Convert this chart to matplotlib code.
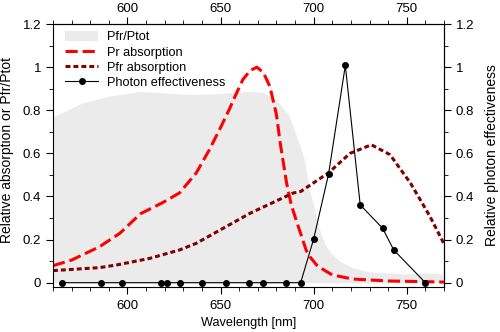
import matplotlib.pyplot as plt
from matplotlib.ticker import MultipleLocator

plt.rcParams["font.family"] = ["Liberation Sans", "DejaVu Sans"]

# Pfr/Ptot (grey area)
pfr_wl = [560, 576, 590, 607, 620, 635, 650, 665, 672, 680, 687, 692, 695, 698,
          700, 703, 706, 709, 714, 721, 730, 740, 750, 760, 770]
pfr_ptot = [0.77, 0.835, 0.865, 0.888, 0.88, 0.873, 0.878, 0.888, 0.885, 0.85, 0.77,
            0.65, 0.57, 0.42, 0.36, 0.25, 0.18, 0.14, 0.10, 0.07, 0.05, 0.045, 0.04,
            0.045, 0.04]

# Pr absorption
pr_wl = [560, 570, 585, 596, 607, 619, 628, 637, 644, 650, 655, 657, 662, 666, 669.5,
         673, 676.5, 680, 682, 685.5, 688, 691, 696, 698, 701.6, 703.4, 710, 721, 740,
         770]
pr_abs = [0.079, 0.105, 0.167, 0.23, 0.32, 0.372, 0.417, 0.51, 0.617, 0.72, 0.81, 0.85,
          0.943, 0.985, 1.0, 0.975, 0.91, 0.78, 0.65, 0.46, 0.36, 0.28, 0.15, 0.12,
          0.082, 0.07, 0.036, 0.017, 0.008, 0.003]

# Pfr absorption
pfrabs_wl = [560, 585, 594, 612, 628, 637, 644, 666, 689, 693, 708, 719.5, 731, 741,
             752, 762.5, 770]
pfr_abs = [0.056, 0.07, 0.082, 0.113, 0.152, 0.183, 0.217, 0.323, 0.416, 0.423, 0.51,
           0.60, 0.64, 0.594, 0.462, 0.307, 0.18]

# Photon effectiveness
eff_wl = [565, 586, 597, 618, 621, 628, 640, 653, 665, 673, 685, 693, 700, 708, 717,
          725, 737, 743, 760]
eff = [0, 0, 0, 0, 0, 0, 0, 0, 0, 0, 0, 0, 0.203, 0.504, 1.008, 0.361, 0.253, 0.152, 0]

yticks = [0, 0.2, 0.4, 0.6, 0.8, 1.0, 1.2]
yticklabels = ["0", "0.2", "0.4", "0.6", "0.8", "1", "1.2"]

fig = plt.figure(figsize=(5, 3.32), dpi=100)
ax = fig.add_axes([0.106, 0.1355, 0.782, 0.792])

ax.fill_between(pfr_wl, 0, pfr_ptot, color="#ebebeb", lw=0, label="Pfr/Ptot")
ax.plot(pr_wl, pr_abs, color="#ff0000", lw=2.2, dashes=(4, 1.6), label="Pr absorption")
ax.plot(pfrabs_wl, pfr_abs, color="#800000", lw=2.2, dashes=(1.6, 1),
        label="Pfr absorption")
ax.plot(eff_wl, eff, color="black", lw=0.8, marker="o", markersize=4,
        label="Photon effectiveness")

ax.set_xlim(560, 770)
ax.set_ylim(-0.02, 1.2)
ax.xaxis.set_major_locator(MultipleLocator(50))
ax.xaxis.set_minor_locator(MultipleLocator(10))
ax.yaxis.set_minor_locator(MultipleLocator(0.1))
ax.set_yticks(yticks)
ax.set_yticklabels(yticklabels)
ax.tick_params(which="both", direction="out", labelsize=9.5)
ax.tick_params(which="major", length=5)
ax.tick_params(which="minor", length=3)
ax.tick_params(axis="x", which="major", pad=4.7)

top = ax.secondary_xaxis("top")
top.xaxis.set_major_locator(MultipleLocator(50))
top.xaxis.set_minor_locator(MultipleLocator(10))
top.tick_params(which="both", direction="out", labelsize=9.5)
top.tick_params(which="major", length=5, pad=1.7)
top.tick_params(which="minor", length=3)

right = ax.secondary_yaxis("right")
right.set_yticks(yticks)
right.set_yticklabels(yticklabels)
right.yaxis.set_minor_locator(MultipleLocator(0.1))
right.tick_params(which="both", direction="out", labelsize=9.5)
right.tick_params(which="major", length=5)
right.tick_params(which="minor", length=3)

ax.set_xlabel("Wavelength [nm]", fontsize=9.2, labelpad=3)
ax.set_ylabel("Relative absorption or Pfr/Ptot", fontsize=10)
ax.yaxis.set_label_coords(-0.1, 0.52)
right.set_ylabel("Relative photon effectiveness", fontsize=10, labelpad=8)

ax.legend(loc="upper left", bbox_to_anchor=(0.024, 0.985), frameon=False,
          fontsize=9.2, handlelength=2.6, handleheight=0.9, labelspacing=0.2,
          borderaxespad=0, borderpad=0.2, handletextpad=0.7)

fig.savefig("out.png", dpi=100)
plt.close(fig)
